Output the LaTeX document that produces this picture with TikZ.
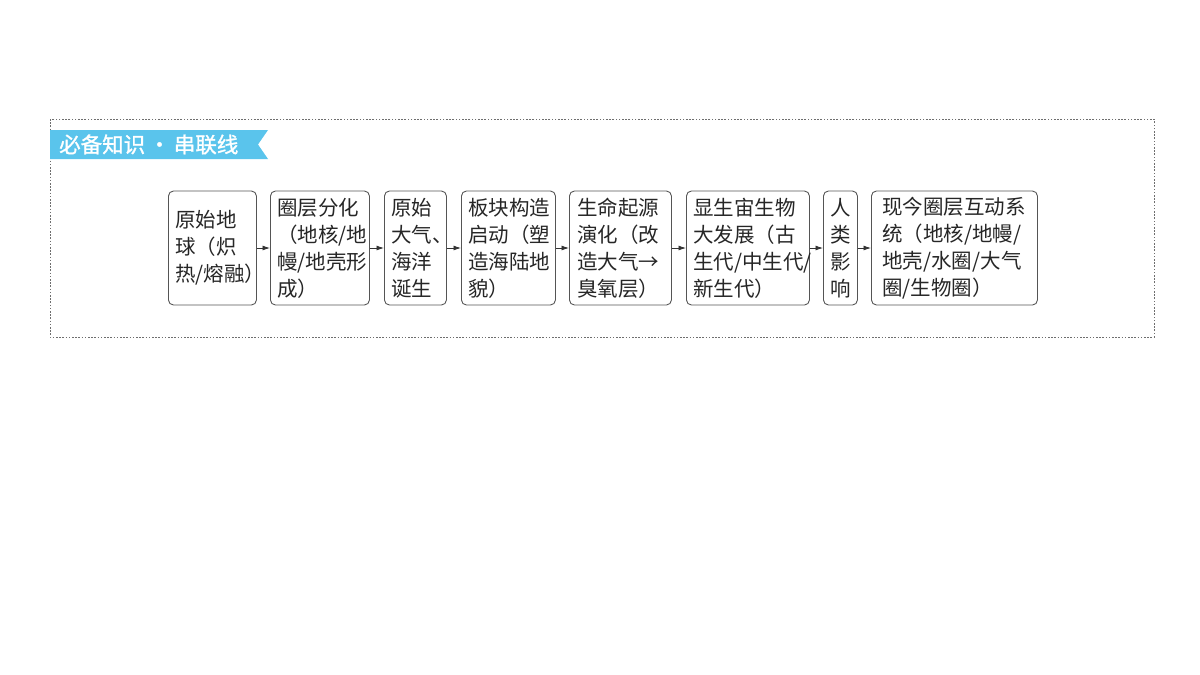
\documentclass[tikz,border=0pt]{standalone}
\usepackage{fontspec}
\setmainfont{Noto Sans CJK SC}
\newfontfamily\bannerfont[FakeBold=1.2]{Noto Sans CJK SC}
\usetikzlibrary{arrows.meta}
\definecolor{bannerblue}{RGB}{90,196,236}
\definecolor{boxline}{RGB}{85,85,85}
\definecolor{frameline}{RGB}{110,110,110}
\tikzset{
  stagebox/.style={draw=boxline, line width=0.9pt, rounded corners=5pt,
    minimum height=114pt, anchor=west, align=left, inner ysep=0pt,
    font=\fontsize{20.5}{27}\selectfont, text=black!85},
  flowarrow/.style={draw=black!80, line width=0.8pt, -{Latex[length=7.5pt,width=5pt]}},
}
\begin{document}
\begin{tikzpicture}[x=1pt,y=-1pt]
\useasboundingbox (0,0) rectangle (1200,675);
% dashed frame
\draw[frameline, line width=0.8pt, dash pattern=on 1.6pt off 1.6pt] (50,119) rectangle (1154,337);
% banner
\fill[bannerblue] (50,130) -- (268,130) -- (258,144.5) -- (268,159) -- (50,159) -- cycle;
\node[anchor=west, text=white, font=\bannerfont\fontsize{21.5}{24}\selectfont, inner sep=0pt] (banner) at (59,144.5) {必备知识\,·\,串联线};
% boxes
\node[stagebox, inner xsep=7pt, text width=74pt] (b1) at (168,248) {原始地\\球（炽\\热/熔融）};
\node[stagebox, inner xsep=7pt, text width=85pt] (b2) at (270,248) {圈层分化\\（地核/地\\幔/地壳形\\成）};
\node[stagebox, inner xsep=7pt, text width=48pt] (b3) at (384,248) {原始\\大气、\\海洋\\诞生};
\node[stagebox, inner xsep=7pt, text width=80pt] (b4) at (461,248) {板块构造\\启动（塑\\造海陆地\\貌）};
\node[stagebox, inner xsep=8pt, text width=86pt] (b5) at (569,248) {生命起源\\演化（改\\造大气→\\臭氧层）};
\node[stagebox, inner xsep=7pt, text width=109pt] (b6) at (686,248) {显生宙生物\\大发展（古\\生代/中生代/\\新生代）};
\node[stagebox, inner xsep=7pt, text width=20pt, align=center] (b7) at (823,248) {人\\类\\影\\响};
\node[stagebox, inner xsep=11pt, text width=144pt] (b8) at (871,248) {现今圈层互动系\\统（地核/地幔/\\地壳/水圈/大气\\圈/生物圈）};
% arrows
\draw[flowarrow] (b1.east) -- (b2.west);
\draw[flowarrow] (b2.east) -- (b3.west);
\draw[flowarrow] (b3.east) -- (b4.west);
\draw[flowarrow] (b4.east) -- (b5.west);
\draw[flowarrow] (b5.east) -- (b6.west);
\draw[flowarrow] (b6.east) -- (b7.west);
\draw[flowarrow] (b7.east) -- (b8.west);
\end{tikzpicture}
\end{document}
